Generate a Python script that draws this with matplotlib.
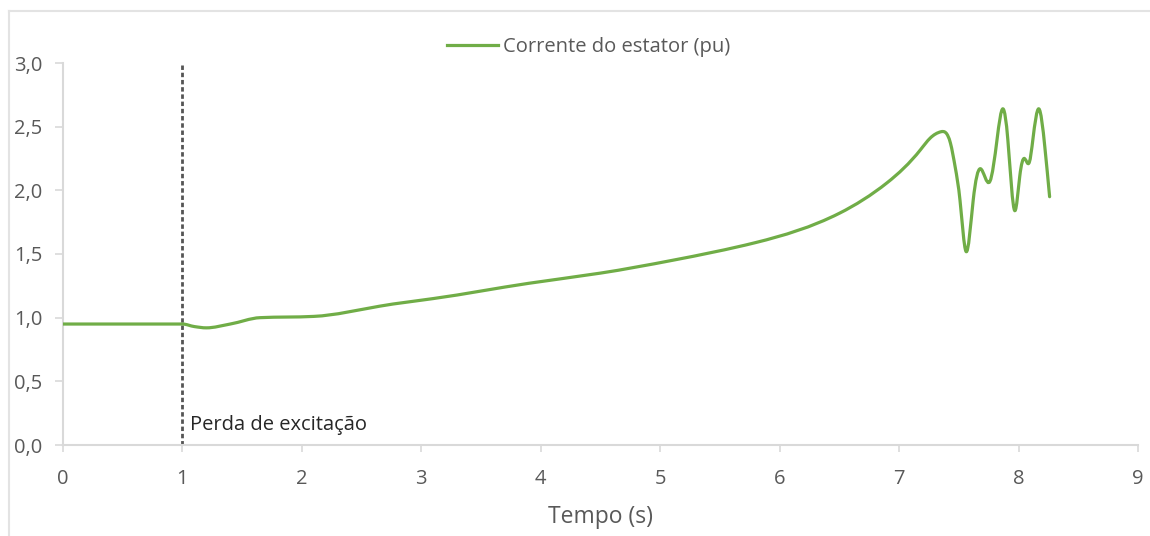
import matplotlib
matplotlib.use("Agg")
import matplotlib.pyplot as plt
from matplotlib.path import Path
from matplotlib.patches import PathPatch
from matplotlib.lines import Line2D
import numpy as np

plt.rcParams['font.family'] = ['Open Sans', 'DejaVu Sans']

# Data
tempo = [0, 0.5, 1.0, 1.1, 1.2, 1.4, 1.65, 2.1, 2.65, 3.1, 3.9, 4.5, 5.1, 5.8,
         6.5, 6.9, 7.18, 7.26, 7.35, 7.43, 7.47, 7.51, 7.56, 7.62, 7.68, 7.76,
         7.82, 7.87, 7.91, 7.97, 8.01, 8.05, 8.09, 8.12, 8.17, 8.22, 8.26]
corrente = [0.95, 0.95, 0.95, 0.93, 0.92, 0.95, 1.0, 1.01, 1.09, 1.15, 1.27,
            1.35, 1.45, 1.59, 1.82, 2.06, 2.32, 2.41, 2.46, 2.37, 2.18, 1.92,
            1.52, 1.92, 2.17, 2.07, 2.40, 2.64, 2.40, 1.84, 2.11, 2.25, 2.22,
            2.40, 2.64, 2.34, 1.95]
evento_t = 1.0
evento_label = "Perda de excitação"
serie_label = "Corrente do estator (pu)"
x_ticks = list(range(0, 10))
y_ticks = [0.0, 0.5, 1.0, 1.5, 2.0, 2.5, 3.0]
y_ticklabels = ["0,0", "0,5", "1,0", "1,5", "2,0", "2,5", "3,0"]

GREEN = "#70AD47"
GRID = "#D9D9D9"
TXT = "#595959"
FS = 14.5

fig = plt.figure(figsize=(11.5, 5.36), dpi=100)
ax = fig.add_axes([63/1150, 1-445/536, (1138-63)/1150, (445-63)/536])

# smooth line drawn as a cubic Bezier path through the data points
x = np.asarray(tempo, float)
y = np.asarray(corrente, float)
n = len(x)
h = np.diff(x)
delta = np.diff(y) / h
# natural spline slopes
A = np.zeros((n, n))
b = np.zeros(n)
A[0, 0] = 1.0
A[-1, -1] = 1.0
for i in range(1, n-1):
    A[i, i-1] = h[i-1]
    A[i, i] = 2*(h[i-1]+h[i])
    A[i, i+1] = h[i]
    b[i] = 6*(delta[i] - delta[i-1])
M = np.linalg.solve(A, b)
d_spl = np.zeros(n)
for i in range(n-1):
    d_spl[i] = delta[i] - h[i]*(2*M[i] + M[i+1])/6
d_spl[-1] = delta[-1] + h[-1]*(M[-2] + 2*M[-1])/6
# shape-preserving slopes (used in the flat early part)
d_pc = np.zeros(n)
for k in range(1, n-1):
    if delta[k-1]*delta[k] > 0:
        w1 = 2*h[k] + h[k-1]
        w2 = h[k] + 2*h[k-1]
        d_pc[k] = (w1 + w2) / (w1/delta[k-1] + w2/delta[k])
d = np.where(x < 2.0, d_pc, d_spl)

verts = [(x[0], y[0])]
codes = [Path.MOVETO]
for i in range(n-1):
    hi = h[i]
    verts += [(x[i]+hi/3, y[i]+d[i]*hi/3), (x[i+1]-hi/3, y[i+1]-d[i+1]*hi/3), (x[i+1], y[i+1])]
    codes += [Path.CURVE4]*3
patch = PathPatch(Path(verts, codes), facecolor='none', edgecolor=GREEN, lw=2.3,
                  capstyle='round', joinstyle='round', zorder=3)
ax.add_patch(patch)

ax.axvline(evento_t, ymin=0, ymax=1, color="#555555", lw=2.0, ls=(0, (1.6, 1.0)), zorder=2)
ax.text(evento_t+0.06, 0.155, evento_label, fontsize=FS, color="#262626", va='center', ha='left')

ax.set_xlim(0, 9)
ax.set_ylim(0, 3)
ax.set_xticks(x_ticks)
ax.set_yticks(y_ticks)
ax.set_yticklabels(y_ticklabels)
for sp in ['top', 'right']:
    ax.spines[sp].set_visible(False)
for sp in ['left', 'bottom']:
    ax.spines[sp].set_color(GRID)
    ax.spines[sp].set_linewidth(1.5)
ax.tick_params(axis='both', colors=GRID, labelcolor=TXT, labelsize=FS, width=1.2)
ax.tick_params(axis='y', length=6, pad=9)
ax.tick_params(axis='x', length=5, pad=12)
ax.set_xlabel("Tempo (s)", fontsize=16.5, color=TXT, labelpad=12)

handle = Line2D([], [], color=GREEN, lw=2.3)
fig.legend([handle], [serie_label], loc='center', bbox_to_anchor=(0.512, 0.912),
           frameon=False, fontsize=FS, labelcolor=TXT, handlelength=2.5,
           handletextpad=0.25)

# outer chart frame (top and left visible)
fig.add_artist(Line2D([9/1150, 1.0], [1-11/536, 1-11/536], color="#E3E3E3", lw=1.5))
fig.add_artist(Line2D([9/1150, 9/1150], [0.0, 1-11/536], color="#E3E3E3", lw=1.5))

fig.savefig("out.png", dpi=100, facecolor='white')
